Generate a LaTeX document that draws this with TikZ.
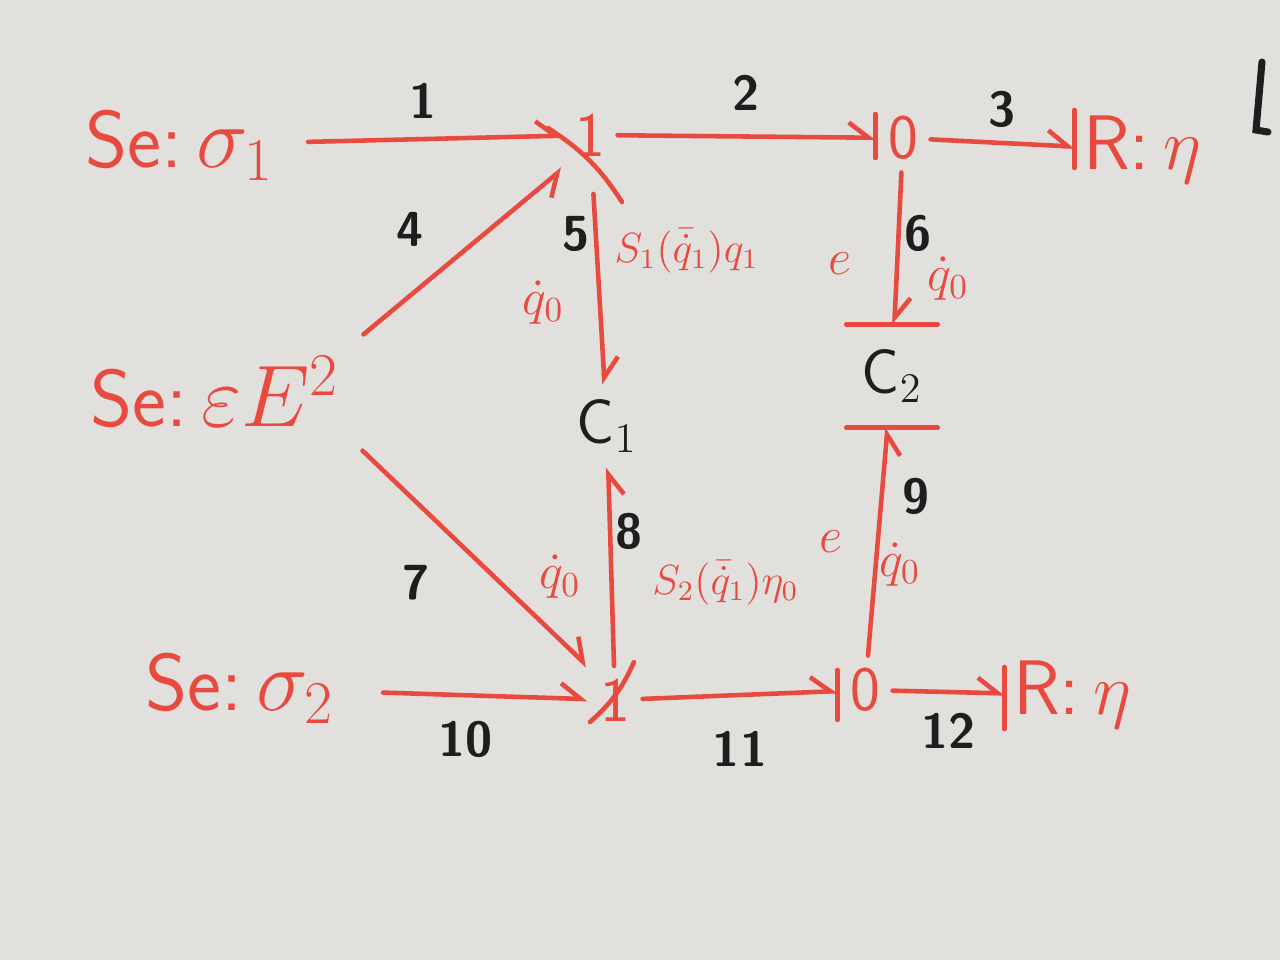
\documentclass[tikz,border=0pt]{standalone}
\usepackage{amsmath}
\usetikzlibrary{arrows.meta,calc}

\definecolor{board}{RGB}{225,224,221}
\definecolor{marker}{RGB}{233,74,64}
\definecolor{ink}{RGB}{30,30,30}

\begin{document}
\begin{tikzpicture}[
  x=0.1mm, y=-0.1mm,
  font=\sffamily,
  every node/.style={align=center},
  bond/.style={draw=marker, line width=1.3pt, line cap=round, -{Straight Barb[harpoon, length=2mm, width=3mm]}},
  bondsw/.style={draw=marker, line width=1.3pt, line cap=round, -{Straight Barb[harpoon, swap, length=2mm, width=3mm]}},
  cstroke/.style={draw=marker, line width=1.3pt, line cap=round},
  elem/.style={text=marker, font=\sffamily\fontsize{23}{27}\selectfont, inner sep=0.8mm},
  junc/.style={text=marker, font=\sffamily\fontsize{18}{20}\selectfont, inner sep=1.2mm},
  store/.style={text=ink, font=\sffamily\fontsize{18}{20}\selectfont, inner sep=0pt},
  num/.style={text=ink, font=\sffamily\bfseries\fontsize{14}{16}\selectfont, inner sep=1pt},
  var/.style={text=marker, font=\fontsize{14}{17}\selectfont, inner sep=1pt},
  svar/.style={text=marker, font=\fontsize{12}{15}\selectfont, inner sep=1pt}
]
  \fill[board] (0,0) rectangle (1280,960);
  \useasboundingbox (0,0) rectangle (1280,960);

  % sources, junctions, storages and dampers
  \node[elem] (se1) at (180,145) {Se:\,$\sigma_1$};
  \node[junc] (j1a) at (590,135) {1};
  \node[junc] (j0a) at (903,138) {0};
  \node[elem, font=\sffamily\fontsize{22}{26}\selectfont] (ra) at (1142,150) {R:\,$\eta$};
  \node[elem] (se3) at (215,392) {Se:\,$\varepsilon E^{2}$};
  \node[store, minimum height=8.2mm] (c1) at (607,426) {C$_1$};
  \node[store, minimum height=10.2mm, minimum width=9mm] (c2) at (892,376) {C$_2$};
  \node[elem] (se2) at (240,688) {Se:\,$\sigma_2$};
  \node[junc] (j1b) at (615,700) {1};
  \node[junc] (j0b) at (865,690) {0};
  \node[elem, font=\sffamily\fontsize{22}{26}\selectfont] (rb) at (1072,695) {R:\,$\eta$};

  % upper row
  \draw[bond, shorten <=2.5mm] (se1) -- node[num, above=1.5mm]{1} (j1a);
  \draw[bond] (j1a) -- node[num, above=2mm]{2} (j0a);
  \draw[bond] (j0a) -- node[num, above=1mm]{3} (ra);
  \draw[cstroke] ($(j0a.west)+(0,-24)$) -- ($(j0a.west)+(0,20)$);
  \draw[cstroke] ($(ra.west)+(0,-40)$) -- ($(ra.west)+(0,18)$);

  % diagonals from the strain source
  \draw[bondsw, shorten <=2mm] (se3.north east) -- node[num, above left=1.5mm, pos=.45]{4} (j1a.south west);
  \draw[cstroke] (548,128) to[bend left=12] (622,202);
  \draw[bond, shorten <=2mm] (se3.south east) -- node[num, below left=2mm, pos=.45]{7} (j1b.north west);
  \draw[cstroke] (590,722) to[bend right=12] (634,662);

  % verticals into the storages
  \draw[bond, shorten <=2.5mm] (j1a) -- node[num, left, pos=.3]{5}
    node[var, left=3mm, pos=.62]{$\dot q_0$}
    node[svar, right=1.2mm, pos=.38]{$S_1(\bar{\dot q}_1)q_1$} (c1);
  \draw[bond] (j0a) -- node[num, right, pos=.4]{6}
    node[var, left=4mm, pos=.6]{$e$}
    node[var, right=2.5mm, pos=.7]{$\dot q_0$} (c2);
  \draw[cstroke] (c2.north west) -- (c2.north east);
  \draw[bondsw] (j1b) -- node[num, right, pos=.68]{8}
    node[var, left=2.5mm, pos=.45]{$\dot q_0$}
    node[svar, right=3.5mm, pos=.42]{$S_2(\bar{\dot q}_1)\eta_0$} (c1);
  \draw[bondsw] (j0b) -- node[num, right=1.5mm, pos=.7]{9}
    node[var, left=3mm, pos=.5]{$e$}
    node[var, xshift=2.4mm, pos=.4]{$\dot q_0$} (c2);
  \draw[cstroke] (c2.south west) -- (c2.south east);

  % lower row
  \draw[bond, shorten <=4mm] (se2) -- node[num, below=2mm]{10} (j1b);
  \draw[bond] (j1b) -- node[num, below=3mm]{11} (j0b);
  \draw[bond] (j0b) -- node[num, below=1.5mm]{12} (rb);
  \draw[cstroke] ($(j0b.west)+(0,-20)$) -- ($(j0b.west)+(0,30)$);
  \draw[cstroke] ($(rb.west)+(0,-28)$) -- ($(rb.west)+(0,34)$);

  % stray mark at the board edge
  \draw[ink, line width=2pt, line cap=round] (1262,62) -- (1256,130) -- (1268,132);
\end{tikzpicture}
\end{document}
